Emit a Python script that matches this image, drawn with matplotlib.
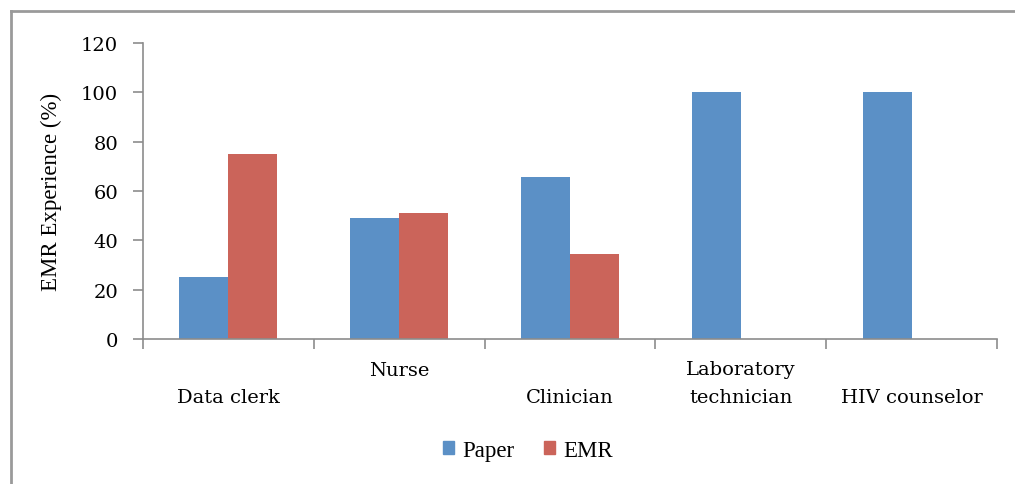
import matplotlib.pyplot as plt
from matplotlib.lines import Line2D
from matplotlib.patches import Patch
import matplotlib.transforms as mtransforms

categories = ['Data clerk', 'Nurse', 'Clinician', 'Laboratory\ntechnician', 'HIV counselor']
paper = [25, 49, 65.5, 100, 100]
emr = [75, 51, 34.5, 0, 0]
yticks = [0, 20, 40, 60, 80, 100, 120]

plt.rcParams['font.family'] = ['Liberation Serif', 'DejaVu Serif']
label_font = 'DejaVu Serif'

blue = '#5B90C6'
red = '#CB645A'
grey = '#8C8C8C'

fig = plt.figure(figsize=(10.15, 4.85), dpi=100)
ax = fig.add_axes([0.1409, 0.299, 0.8414, 0.6103])

x = list(range(len(categories)))
w = 0.287
ax.bar([i - w / 2 for i in x], paper, width=w, color=blue, label='Paper')
ax.bar([i + w / 2 for i in x], emr, width=w, color=red, label='EMR')

ax.set_xlim(-0.5, len(categories) - 0.5)
ax.set_ylim(0, 120)
ax.set_yticks(yticks)
ax.set_yticklabels([str(v) for v in yticks], family=label_font, fontsize=14)
ax.tick_params(axis='y', direction='out', length=7, width=1.2, color=grey, pad=11)
ax.set_xticks([i - 0.5 for i in range(len(categories) + 1)])
ax.set_xticklabels([])
ax.tick_params(axis='x', direction='out', length=7, width=1.2, color=grey)

for s in ['top', 'right']:
    ax.spines[s].set_visible(False)
for s in ['left', 'bottom']:
    ax.spines[s].set_color(grey)
    ax.spines[s].set_linewidth(1.2)

ax.set_ylabel('EMR Experience (%)', fontsize=16.5)
ax.yaxis.set_label_coords(-0.095, 0.5)

# Excel-style staggered category labels
trans = mtransforms.blended_transform_factory(ax.transData, ax.transAxes)
label_y = [-0.196, -0.105, -0.196, -0.15, -0.196]
for i, (lab, ly) in enumerate(zip(categories, label_y)):
    ax.text(i, ly, lab, transform=trans, ha='center', va='center',
            family=label_font, fontsize=14, linespacing=1.7)

handles = [Patch(color=blue), Patch(color=red)]
fig.legend(handles, ['Paper', 'EMR'], loc='center', bbox_to_anchor=(0.52, 0.07), ncol=2,
           frameon=False, fontsize=16.5, handlelength=0.48, handleheight=0.48,
           handletextpad=0.35, columnspacing=1.3)

# frame around chart area (left and top visible)
fig.add_artist(Line2D([0.0108, 0.0108], [0, 1 - 12 / 485], color='#9A9A9A', lw=2,
                      transform=fig.transFigure))
fig.add_artist(Line2D([0.0108, 1], [1 - 12 / 485, 1 - 12 / 485], color='#9A9A9A', lw=2,
                      transform=fig.transFigure))

plt.savefig('out.png', dpi=100)
